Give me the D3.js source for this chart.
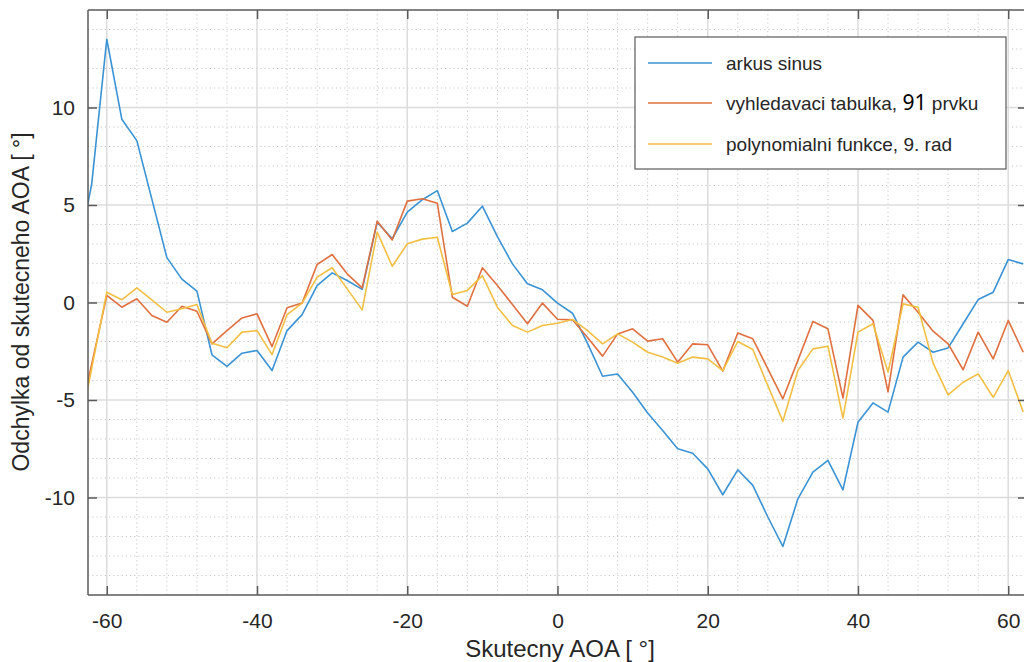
<!DOCTYPE html>
<html>
<head>
<meta charset="utf-8">
<script src="https://cdn.jsdelivr.net/npm/d3@7"></script>
<style>
  html, body { margin: 0; padding: 0; background: #fff; }
  svg { display: block; }
  text { font-family: "Liberation Sans", Arial, Helvetica, sans-serif; fill: #262626; }
</style>
</head>
<body>
<svg id="chart" width="1024" height="662"></svg>
<script>
// ---- data ----
const aoa = [-64,-62,-60,-58,-56,-54,-52,-50,-48,-46,-44,-42,-40,-38,-36,-34,-32,-30,-28,-26,
  -24,-22,-20,-18,-16,-14,-12,-10,-8,-6,-4,-2,0,2,4,6,8,10,12,14,16,18,20,22,24,26,28,30,32,34,
  36,38,40,42,44,46,48,50,52,54,56,58,60,62];

const arkusSinus = [2.1,6.1,13.5,9.4,8.3,5.3,2.3,1.2,0.58,-2.68,-3.28,-2.6,-2.46,-3.49,-1.44,-0.62,0.87,1.52,1.13,0.67,
  4.12,3.27,4.63,5.27,5.74,3.64,4.07,4.94,3.38,1.98,0.96,0.65,-0.03,-0.55,-2.1,-3.78,-3.67,-4.6,-5.67,-6.56,
  -7.5,-7.73,-8.53,-9.86,-8.58,-9.38,-11.0,-12.51,-10.07,-8.7,-8.1,-9.61,-6.14,-5.15,-5.62,-2.8,-2.03,-2.55,-2.33,-1.09,
  0.15,0.53,2.2,1.98];

const tabulka = [-6.7,-3.15,0.36,-0.24,0.19,-0.67,-1.01,-0.19,-0.45,-2.12,-1.44,-0.79,-0.58,-2.26,-0.27,-0.03,1.95,2.46,1.47,0.75,
  4.17,3.21,5.2,5.32,5.09,0.27,-0.19,1.78,0.87,-0.1,-1.09,-0.03,-0.86,-0.89,-1.8,-2.75,-1.61,-1.35,-1.98,-1.86,
  -3.06,-2.12,-2.17,-3.52,-1.56,-1.86,-3.4,-4.94,-2.97,-0.97,-1.35,-4.89,-0.15,-0.92,-4.58,0.39,-0.5,-1.47,-2.12,-3.45,
  -1.52,-2.89,-0.92,-2.55];

const polynom = [-7.3,-3.37,0.53,0.14,0.75,0.14,-0.5,-0.32,-0.1,-2.09,-2.32,-1.52,-1.44,-2.67,-0.62,-0.03,1.3,1.78,0.7,-0.38,
  3.61,1.86,3.01,3.25,3.35,0.41,0.62,1.38,-0.24,-1.18,-1.52,-1.18,-1.06,-0.87,-1.44,-2.12,-1.61,-2.03,-2.55,-2.8,
  -3.11,-2.8,-2.89,-3.49,-2.0,-2.41,-4.26,-6.09,-3.49,-2.38,-2.24,-5.93,-1.52,-1.09,-3.57,-0.07,-0.24,-3.11,-4.74,-4.09,
  -3.66,-4.86,-3.49,-5.62];

const xTicks = [-60,-40,-20,0,20,40,60];
const yTicks = [-10,-5,0,5,10];
const xMinor = [-56,-52,-48,-44,-36,-32,-28,-24,-16,-12,-8,-4,4,8,12,16,24,28,32,36,44,48,52,56];
const yMinor = [-14,-13,-12,-11,-9,-8,-7,-6,-4,-3,-2,-1,1,2,3,4,6,7,8,9,11,12,13,14];
const seriesNames = ["arkus sinus", "vyhledavaci tabulka,", "polynomialni funkce, 9. rad"];
const seriesColors = ["#3a93d4", "#e0703f", "#f2bf42"];

// ---- layout ----
const L = 88, T = 10, R = 1027, B = 595;
const svg = d3.select("#chart");
const x = d3.scaleLinear().domain([-62.5, 62.5]).range([L, R]);
const y = d3.scaleLinear().domain([-15, 15]).range([B, T]);
const fmt = d => String(d); // plain hyphen-minus like the reference

svg.append("defs").append("clipPath").attr("id", "clip")
  .append("rect").attr("x", L).attr("y", T).attr("width", R - L).attr("height", B - T);

// minor grid
const g = svg.append("g");
g.selectAll(".mx").data(xMinor).join("line")
  .attr("x1", d => x(d)).attr("x2", d => x(d)).attr("y1", T).attr("y2", B)
  .attr("stroke", "#c8c8c8").attr("stroke-width", 1).attr("stroke-dasharray", "1.2,3");
g.selectAll(".my").data(yMinor).join("line")
  .attr("y1", d => y(d)).attr("y2", d => y(d)).attr("x1", L).attr("x2", R)
  .attr("stroke", "#c8c8c8").attr("stroke-width", 1).attr("stroke-dasharray", "1.2,3");
// major grid
g.selectAll(".gx").data(xTicks).join("line")
  .attr("x1", d => x(d)).attr("x2", d => x(d)).attr("y1", T).attr("y2", B)
  .attr("stroke", "#dcdcdc").attr("stroke-width", 1.5);
g.selectAll(".gy").data(yTicks).join("line")
  .attr("y1", d => y(d)).attr("y2", d => y(d)).attr("x1", L).attr("x2", R)
  .attr("stroke", "#dcdcdc").attr("stroke-width", 1.5);

// lines
const series = [arkusSinus, tabulka, polynom];
const lineGen = d3.line().x((d, i) => x(aoa[i])).y(d => y(d));
const lg = svg.append("g").attr("clip-path", "url(#clip)");
series.forEach((s, k) => {
  lg.append("path").datum(s).attr("d", lineGen)
    .attr("fill", "none").attr("stroke", seriesColors[k]).attr("stroke-width", 1.6)
    .attr("stroke-linejoin", "round");
});

// axes (MATLAB-like box with inward ticks)
const axisColor = "#5a5a5a";
const xAxisB = d3.axisBottom(x).tickValues(xTicks).tickSize(-9).tickFormat(fmt);
const xAxisT = d3.axisTop(x).tickValues(xTicks).tickSize(-9).tickFormat("");
const yAxisL = d3.axisLeft(y).tickValues(yTicks).tickSize(-9).tickFormat(fmt);
const yAxisR = d3.axisRight(y).tickValues(yTicks).tickSize(-9).tickFormat("");

function style(sel) {
  sel.select(".domain").attr("stroke", axisColor).attr("stroke-width", 1.5);
  sel.selectAll(".tick line").attr("stroke", axisColor).attr("stroke-width", 1.5);
  sel.selectAll(".tick text").attr("font-size", 21).attr("fill", "#262626")
    .attr("font-family", "'Liberation Sans', Arial, sans-serif");
}
const gxb = svg.append("g").attr("transform", `translate(0,${B})`).call(xAxisB).call(style);
gxb.selectAll(".tick text").attr("y", 18).attr("dy", "0.71em");
gxb.select(".domain").attr("d", `M${L},0H${R}`);
const gxt = svg.append("g").attr("transform", `translate(0,${T})`).call(xAxisT).call(style);
gxt.select(".domain").attr("d", `M${L},0H${R}`);
const gyl = svg.append("g").attr("transform", `translate(${L},0)`).call(yAxisL).call(style);
gyl.selectAll(".tick text").attr("x", -13);
gyl.select(".domain").attr("d", `M0,${T}V${B}`);
const gyr = svg.append("g").attr("transform", `translate(${R},0)`).call(yAxisR).call(style);
gyr.select(".domain").attr("d", `M0,${T}V${B}`);

// axis labels
svg.append("text").attr("x", 560).attr("y", 657)
  .attr("text-anchor", "middle").attr("font-size", 24).text("Skutecny AOA [ °]");
svg.append("text").attr("transform", `translate(29,302) rotate(-90)`)
  .attr("text-anchor", "middle").attr("font-size", 23).text("Odchylka od skutecneho AOA [ °]");

// legend
const leg = svg.append("g");
leg.append("rect").attr("x", 635).attr("y", 37).attr("width", 371).attr("height", 132)
  .attr("fill", "#fff").attr("stroke", "#5a5a5a").attr("stroke-width", 1.2);
const legY = [63, 103, 144];
seriesNames.forEach((name, k) => {
  leg.append("line").attr("x1", 648).attr("x2", 712).attr("y1", legY[k]).attr("y2", legY[k])
    .attr("stroke", seriesColors[k]).attr("stroke-width", 1.6);
  const t = leg.append("text").attr("x", 726).attr("y", legY[k] + 7).attr("font-size", 19).text(name);
  if (k === 1) {
    t.append("tspan").attr("font-family", "'Noto Sans', sans-serif").attr("font-size", 21)
      .attr("fill", "#000").text("  91");
    t.append("tspan").text(" prvku");
  }
});
</script>
</body>
</html>
